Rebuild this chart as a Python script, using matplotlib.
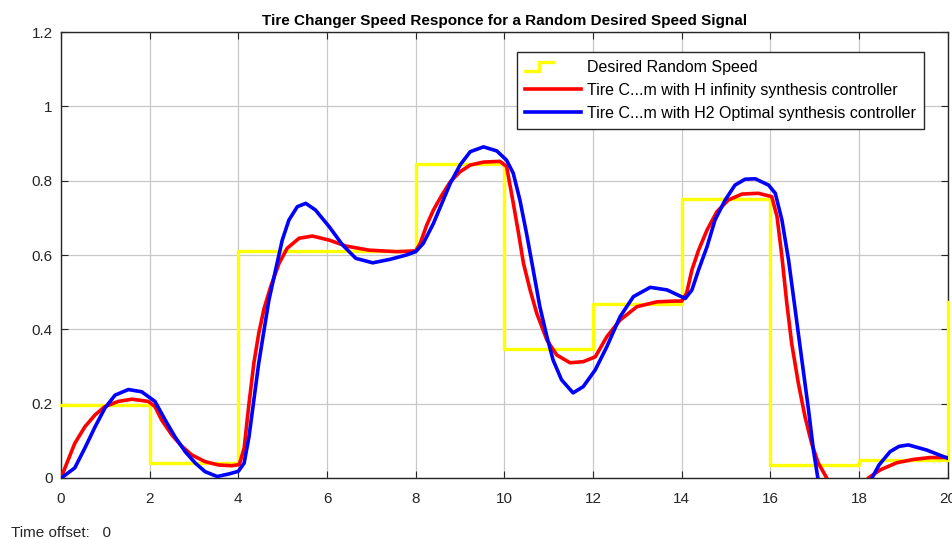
import matplotlib
matplotlib.use("Agg")
import matplotlib.pyplot as plt
from matplotlib.lines import Line2D
from matplotlib.legend_handler import HandlerLine2D

plt.rcParams['font.family'] = ['Liberation Sans', 'DejaVu Sans']

# desired random speed (piecewise constant, steps every 2 s)
t_step = [0, 2, 4, 8, 10, 12, 14, 16, 18, 20]
desired = [0.196, 0.040, 0.611, 0.845, 0.347, 0.468, 0.751, 0.034, 0.048, 0.474]

# H infinity controller response
t_hinf = [0, 0.16, 0.31, 0.54, 0.77, 0.99, 1.29, 1.6, 1.97, 2.12, 2.27, 2.5, 2.72, 2.95,
          3.25, 3.55, 3.85, 4.02, 4.13, 4.24, 4.35, 4.46, 4.58, 4.73, 4.92, 5.1, 5.37,
          5.67, 6.05, 6.43, 6.95, 7.57, 8.0, 8.1, 8.25, 8.4, 8.59, 8.78, 9.0, 9.23,
          9.53, 9.9, 10.05, 10.2, 10.32, 10.43, 10.58, 10.73, 10.96, 11.18, 11.48,
          11.78, 12.05, 12.31, 12.61, 12.99, 13.44, 13.85, 14.0, 14.11, 14.23, 14.38,
          14.57, 14.79, 15.05, 15.36, 15.73, 16.03, 16.15, 16.26, 16.37, 16.48, 16.63,
          16.78, 16.93, 17.08, 17.27, 17.5, 17.75, 18.0, 18.21, 18.48, 18.85, 19.23,
          19.6, 20.0]
y_hinf = [0, 0.048, 0.093, 0.138, 0.170, 0.192, 0.206, 0.212, 0.206, 0.192, 0.156, 0.116,
          0.086, 0.062, 0.044, 0.035, 0.033, 0.036, 0.080, 0.200, 0.309, 0.389, 0.456,
          0.515, 0.578, 0.618, 0.645, 0.651, 0.640, 0.624, 0.613, 0.609, 0.611, 0.631,
          0.681, 0.721, 0.761, 0.797, 0.824, 0.842, 0.850, 0.852, 0.838, 0.740, 0.658,
          0.578, 0.506, 0.443, 0.371, 0.331, 0.310, 0.313, 0.326, 0.380, 0.425, 0.461,
          0.474, 0.476, 0.476, 0.497, 0.560, 0.613, 0.667, 0.716, 0.748, 0.764, 0.766,
          0.757, 0.703, 0.595, 0.470, 0.362, 0.255, 0.165, 0.093, 0.040, 0.0, -0.05,
          -0.07, -0.04, 0.0, 0.022, 0.041, 0.050, 0.055, 0.055]

# H2 optimal controller response
t_h2 = [0, 0.04, 0.31, 0.54, 0.77, 0.99, 1.22, 1.52, 1.82, 2.12, 2.35, 2.57, 2.8, 3.03,
        3.25, 3.52, 3.79, 4.0, 4.13, 4.24, 4.35, 4.46, 4.58, 4.69, 4.84, 4.99, 5.14,
        5.33, 5.52, 5.74, 6.05, 6.35, 6.65, 7.03, 7.41, 7.79, 8.0, 8.17, 8.4, 8.59,
        8.78, 9.0, 9.23, 9.53, 9.83, 10.05, 10.2, 10.35, 10.5, 10.65, 10.8, 10.96,
        11.1, 11.29, 11.55, 11.78, 12.05, 12.31, 12.61, 12.91, 13.29, 13.67, 14.08,
        14.23, 14.38, 14.57, 14.75, 14.98, 15.2, 15.43, 15.66, 15.96, 16.11, 16.26,
        16.41, 16.56, 16.71, 16.86, 16.97, 17.07, 17.3, 17.6, 17.9, 18.1, 18.29, 18.45,
        18.7, 18.9, 19.11, 19.53, 20.0]
y_h2 = [0, 0.003, 0.027, 0.081, 0.138, 0.188, 0.223, 0.238, 0.232, 0.206, 0.156, 0.111,
        0.071, 0.040, 0.017, 0.004, 0.011, 0.018, 0.040, 0.111, 0.210, 0.309, 0.398,
        0.479, 0.560, 0.640, 0.694, 0.730, 0.739, 0.721, 0.676, 0.627, 0.591, 0.579,
        0.588, 0.600, 0.609, 0.631, 0.685, 0.739, 0.793, 0.842, 0.878, 0.891, 0.880,
        0.855, 0.820, 0.748, 0.658, 0.560, 0.461, 0.380, 0.317, 0.264, 0.229, 0.246,
        0.291, 0.353, 0.434, 0.488, 0.513, 0.506, 0.483, 0.506, 0.560, 0.622, 0.694,
        0.748, 0.788, 0.804, 0.805, 0.788, 0.766, 0.694, 0.586, 0.452, 0.317, 0.183,
        0.075, 0.0, -0.1, -0.15, -0.1, -0.05, 0.0, 0.035, 0.071, 0.085, 0.089, 0.075,
        0.053]

labels = ['Desired Random Speed',
          'Tire C...m with H infinity synthesis controller',
          'Tire C...m with H2 Optimal synthesis controller']


# legend icon for the step signal (MATLAB scope style)
class StepHandler(HandlerLine2D):
    def create_artists(self, legend, orig_handle, xdescent, ydescent,
                       width, height, fontsize, trans):
        x0 = -xdescent
        w = width * 0.5
        yl = -ydescent + height * 0.1
        yh = -ydescent + height * 0.9
        ln = Line2D([x0, x0 + w * 0.5, x0 + w * 0.5, x0 + w],
                    [yl, yl, yh, yh], color=orig_handle.get_color(),
                    lw=orig_handle.get_linewidth(), solid_joinstyle='miter')
        ln.set_transform(trans)
        return [ln]


fig = plt.figure(figsize=(9.53, 5.39), dpi=100)
ax = fig.add_axes([0.064, 0.1132, 0.9305, 0.8274])

l1, = ax.step(t_step, desired, where='post', color='#ffff00', lw=2.4,
              label=labels[0], zorder=3, clip_on=False)
l2, = ax.plot(t_hinf, y_hinf, color='#ff0000', lw=2.6, label=labels[1], zorder=4)
l3, = ax.plot(t_h2, y_h2, color='#0000ff', lw=2.6, label=labels[2], zorder=5)

ax.set_xlim(0, 20)
ax.set_ylim(0, 1.2)
ax.set_xticks(range(0, 21, 2))
ax.set_yticks([0, 0.2, 0.4, 0.6, 0.8, 1, 1.2])
ax.set_yticklabels(['0', '0.2', '0.4', '0.6', '0.8', '1', '1.2'])
ax.grid(True, color='#c8c8c8', lw=0.9)
ax.set_axisbelow(True)
ax.tick_params(direction='in', top=True, right=True, length=5, width=0.8,
               colors='#262626', labelsize=11, pad=6)
ax.tick_params(axis='x', pad=10)
for s in ax.spines.values():
    s.set_color('#262626')
    s.set_linewidth(1.0)

ax.set_title('Tire Changer Speed Responce for a Random Desired Speed Signal',
             fontsize=11, fontweight='bold', pad=5)

leg = ax.legend(handles=[l1, l2, l3], loc='upper right',
                bbox_to_anchor=(0.973, 0.955), borderaxespad=0,
                fancybox=False, framealpha=1, edgecolor='#262626',
                fontsize=11.5, handlelength=3.5, handletextpad=0.4,
                labelspacing=0.5, borderpad=0.5,
                handler_map={l1: StepHandler()})
leg.get_frame().set_linewidth(1.0)
leg.set_zorder(10)

fig.text(0.012, 0.003, 'Time offset:   0', fontsize=11, color='#262626')

fig.savefig('out.png', dpi=100)
